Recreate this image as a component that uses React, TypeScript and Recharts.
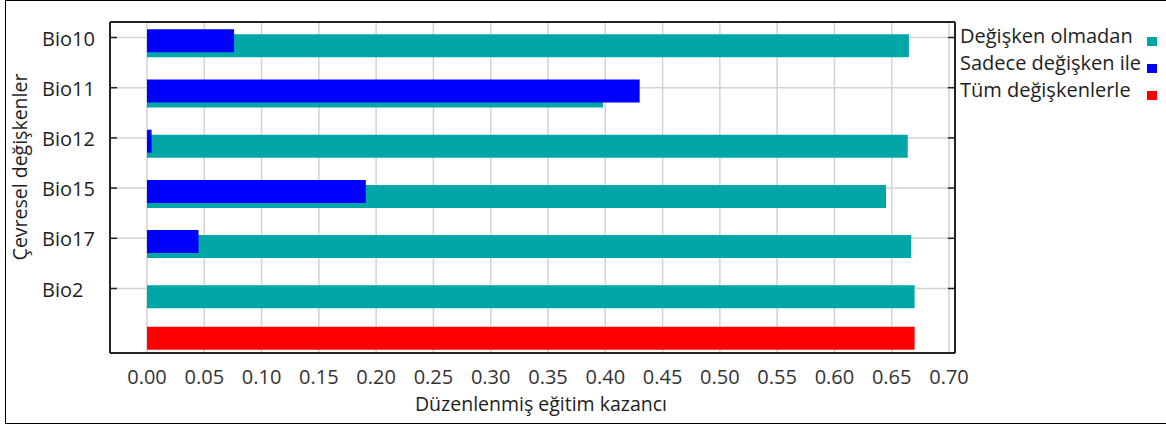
import { BarChart, Bar, XAxis, YAxis, CartesianGrid, Legend, Label } from "recharts";

// rows from top to bottom; the last row (no label) holds the "all variables" bar
const variables = ["Bio10", "Bio11", "Bio12", "Bio15", "Bio17", "Bio2", ""];
const withoutVariable = [0.665, 0.398, 0.664, 0.645, 0.667, 0.67, null];
const onlyVariable = [0.076, 0.43, 0.004, 0.191, 0.045, null, null];
const allVariables = [null, null, null, null, null, null, 0.67];

const xTicks = [0, 0.05, 0.1, 0.15, 0.2, 0.25, 0.3, 0.35, 0.4, 0.45, 0.5, 0.55, 0.6, 0.65, 0.7];
const seriesNames = ["Değişken olmadan", "Sadece değişken ile", "Tüm değişkenlerle"];
const seriesColors = ["#00a7a6", "#0000ff", "#ff0000"];

const data = variables.map((name, i) => ({
  name,
  without: withoutVariable[i],
  only: onlyVariable[i],
  all: allVariables[i],
}));

const labelledRows = variables.filter((v) => v !== "");

const FONT = '"Open Sans", sans-serif';
const AXIS = "#222";
const TEXT = "#1e1e1e";

// tick rows are shared by the label axis and the mirrored tick axes
const rowPadding = { top: -9.6, bottom: -10.8 };
const xPadding = { left: 37, right: 6 };

function LegendBox({ payload }: any) {
  return (
    <div style={{ fontFamily: FONT, fontSize: 20, color: TEXT, lineHeight: "27px" }}>
      {(payload || []).map((p: any) => (
        <div key={p.value} style={{ position: "relative", height: 27, whiteSpace: "nowrap" }}>
          <span>{p.value}</span>
          <span
            style={{ position: "absolute", left: 187, top: 15, width: 10, height: 9, background: p.color }}
          />
        </div>
      ))}
    </div>
  );
}

// row labels are left-aligned in the reference
function RowTick({ y, payload }: any) {
  return (
    <text x={42} y={y} dy={8} textAnchor="start" fontSize={20} fill={TEXT}>
      {payload.value}
    </text>
  );
}

// frame axes: only the border line and short inward tick marks
const frameAxis = {
  mirror: true,
  tick: () => <g />,
  tickSize: 7,
  interval: 0,
  axisLine: { stroke: AXIS, strokeWidth: 2 },
  tickLine: { stroke: AXIS, strokeWidth: 1.5 },
} as const;

export default function App() {
  return (
    <div style={{ position: "absolute", left: 0, top: 0, width: 1166, height: 427, background: "#fff" }}>
      <div
        style={{
          position: "absolute",
          left: 5,
          top: 0,
          width: 1161,
          height: 424,
          boxSizing: "border-box",
          borderTop: "1.5px solid #000",
          borderLeft: "1.5px solid #000",
          borderBottom: "1.5px solid #000",
        }}
      />
      <div style={{ position: "absolute", left: 0, top: 0 }}>
        <BarChart
          width={1166}
          height={427}
          data={data}
          layout="vertical"
          margin={{ top: 22, right: 211, left: 0, bottom: 0 }}
          style={{ fontFamily: FONT }}
        >
          <CartesianGrid xAxisId="x" yAxisId="lab" stroke="#d2d2d2" strokeWidth={1.5} />

          <XAxis
            xAxisId="x"
            type="number"
            domain={[0, 0.7]}
            ticks={xTicks}
            padding={xPadding}
            height={74}
            interval={0}
            tickLine={false}
            axisLine={false}
            tickSize={0}
            tickMargin={17}
            tickFormatter={(v: number) => v.toFixed(2)}
            tick={{ fill: "#333", fontSize: 20 }}
          >
            <Label
              content={() => (
                <text x={541} y={411} textAnchor="middle" fontSize={19.5} fill={TEXT}>
                  Düzenlenmiş eğitim kazancı
                </text>
              )}
            />
          </XAxis>
          <XAxis
            xAxisId="xb"
            type="number"
            orientation="bottom"
            height={1}
            domain={[0, 0.7]}
            ticks={xTicks}
            padding={xPadding}
            {...frameAxis}
          />
          <XAxis
            xAxisId="xt"
            type="number"
            orientation="top"
            height={1}
            domain={[0, 0.7]}
            ticks={xTicks}
            padding={xPadding}
            {...frameAxis}
          />

          <YAxis
            yAxisId="lab"
            type="category"
            dataKey="name"
            width={110}
            ticks={labelledRows}
            padding={rowPadding}
            interval={0}
            tickLine={false}
            axisLine={false}
            tick={<RowTick />}
          >
            <Label
              content={() => (
                <text x={27} y={167} transform="rotate(-90, 27, 167)" textAnchor="middle" fontSize={19.5} fill={TEXT}>
                  Çevresel değişkenler
                </text>
              )}
            />
          </YAxis>
          <YAxis
            yAxisId="lt"
            type="category"
            dataKey="name"
            orientation="left"
            width={1}
            ticks={labelledRows}
            padding={rowPadding}
            {...frameAxis}
          />
          <YAxis
            yAxisId="rt"
            type="category"
            dataKey="name"
            orientation="right"
            width={1}
            ticks={labelledRows}
            padding={rowPadding}
            {...frameAxis}
          />
          {/* one hidden band axis per series so the bars overlap with their own vertical offset */}
          <YAxis yAxisId="teal" type="category" dataKey="name" hide padding={{ top: -1.7, bottom: -18.7 }} />
          <YAxis yAxisId="blue" type="category" dataKey="name" hide padding={{ top: -6.7, bottom: -13.7 }} />
          <YAxis yAxisId="red" type="category" dataKey="name" hide padding={{ top: -10.5, bottom: -9.9 }} />

          <Legend
            layout="vertical"
            align="center"
            verticalAlign="middle"
            wrapperStyle={{ left: 960, top: 22, width: 206 }}
            content={<LegendBox />}
          />

          <Bar
            dataKey="without"
            name={seriesNames[0]}
            fill={seriesColors[0]}
            xAxisId="x"
            yAxisId="teal"
            barSize={23}
            isAnimationActive={false}
          />
          <Bar
            dataKey="only"
            name={seriesNames[1]}
            fill={seriesColors[1]}
            xAxisId="x"
            yAxisId="blue"
            barSize={23}
            isAnimationActive={false}
          />
          <Bar
            dataKey="all"
            name={seriesNames[2]}
            fill={seriesColors[2]}
            xAxisId="x"
            yAxisId="red"
            barSize={23}
            isAnimationActive={false}
          />
        </BarChart>
      </div>
    </div>
  );
}
